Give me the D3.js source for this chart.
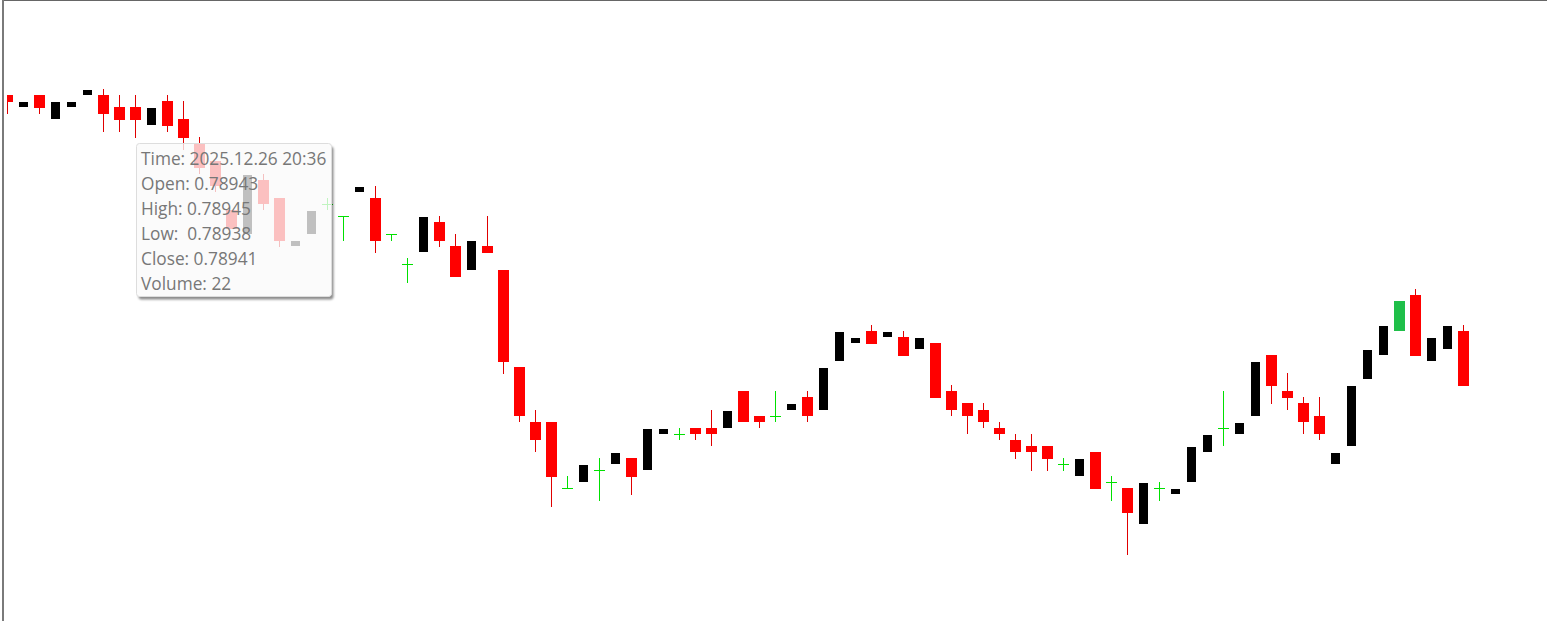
<!DOCTYPE html>
<html>
<head>
<meta charset="utf-8">
<script src="https://cdn.jsdelivr.net/npm/d3@7"></script>
<style>
  html, body { margin: 0; padding: 0; background: #fff; }
  svg { display: block; }
</style>
</head>
<body>
<div id="chart"></div>
<script>
// M1 bars, first bar time; the tooltip shows bar hoverIndex
const startTime = '2025.12.26 20:28'
const hoverIndex = 8
const hoverVolume = 22
const markedIndex = 87

const opens = [
  0.78945, 0.78943, 0.78945, 0.78941, 0.78943, 0.78945, 0.78945, 0.78943, 0.78943, 0.78940,
  0.78944, 0.78941, 0.78937, 0.78934, 0.78926, 0.78922, 0.78931, 0.78928, 0.78920, 0.78922,
  0.78927, 0.78925, 0.78929, 0.78928, 0.78922, 0.78917, 0.78919, 0.78924, 0.78920, 0.78916,
  0.78920, 0.78916, 0.78900, 0.78891, 0.78891, 0.78880, 0.78881, 0.78883, 0.78884, 0.78885,
  0.78883, 0.78889, 0.78889, 0.78890, 0.78890, 0.78890, 0.78896, 0.78892, 0.78892, 0.78893,
  0.78895, 0.78893, 0.78901, 0.78904, 0.78906, 0.78905, 0.78905, 0.78903, 0.78904, 0.78896,
  0.78894, 0.78893, 0.78890, 0.78888, 0.78887, 0.78887, 0.78884, 0.78882, 0.78886, 0.78881,
  0.78880, 0.78874, 0.78880, 0.78879, 0.78881, 0.78886, 0.78890, 0.78889, 0.78892, 0.78902,
  0.78896, 0.78894, 0.78892, 0.78884, 0.78887, 0.78898, 0.78902, 0.78906, 0.78912, 0.78901,
  0.78903, 0.78906
]
const highs = [
  0.78945, 0.78944, 0.78945, 0.78944, 0.78944, 0.78946, 0.78946, 0.78945, 0.78945, 0.78943,
  0.78945, 0.78944, 0.78938, 0.78934, 0.78926, 0.78932, 0.78932, 0.78928, 0.78921, 0.78926,
  0.78928, 0.78925, 0.78930, 0.78930, 0.78922, 0.78918, 0.78925, 0.78925, 0.78922, 0.78921,
  0.78925, 0.78916, 0.78900, 0.78893, 0.78891, 0.78882, 0.78884, 0.78885, 0.78886, 0.78885,
  0.78890, 0.78890, 0.78890, 0.78890, 0.78893, 0.78893, 0.78896, 0.78892, 0.78896, 0.78894,
  0.78896, 0.78900, 0.78906, 0.78905, 0.78907, 0.78906, 0.78906, 0.78905, 0.78904, 0.78897,
  0.78894, 0.78894, 0.78891, 0.78889, 0.78889, 0.78887, 0.78885, 0.78885, 0.78886, 0.78882,
  0.78880, 0.78881, 0.78881, 0.78880, 0.78887, 0.78889, 0.78896, 0.78891, 0.78901, 0.78902,
  0.78899, 0.78895, 0.78895, 0.78886, 0.78897, 0.78903, 0.78907, 0.78911, 0.78913, 0.78905,
  0.78907, 0.78907
]
const lows = [
  0.78942, 0.78943, 0.78942, 0.78941, 0.78943, 0.78945, 0.78939, 0.78939, 0.78938, 0.78940,
  0.78939, 0.78936, 0.78932, 0.78929, 0.78923, 0.78922, 0.78926, 0.78920, 0.78920, 0.78922,
  0.78926, 0.78921, 0.78929, 0.78919, 0.78921, 0.78914, 0.78919, 0.78920, 0.78915, 0.78916,
  0.78919, 0.78899, 0.78891, 0.78886, 0.78877, 0.78880, 0.78881, 0.78878, 0.78884, 0.78879,
  0.78883, 0.78889, 0.78888, 0.78888, 0.78887, 0.78890, 0.78891, 0.78890, 0.78891, 0.78893,
  0.78891, 0.78893, 0.78901, 0.78904, 0.78904, 0.78905, 0.78902, 0.78903, 0.78895, 0.78892,
  0.78889, 0.78890, 0.78888, 0.78885, 0.78883, 0.78883, 0.78883, 0.78882, 0.78880, 0.78878,
  0.78869, 0.78874, 0.78878, 0.78879, 0.78881, 0.78886, 0.78887, 0.78889, 0.78892, 0.78894,
  0.78893, 0.78889, 0.78888, 0.78884, 0.78887, 0.78898, 0.78902, 0.78906, 0.78902, 0.78901,
  0.78903, 0.78897
]
const closes = [
  0.78944, 0.78944, 0.78943, 0.78944, 0.78944, 0.78946, 0.78942, 0.78941, 0.78941, 0.78943,
  0.78940, 0.78938, 0.78933, 0.78930, 0.78923, 0.78932, 0.78927, 0.78921, 0.78921, 0.78926,
  0.78927, 0.78925, 0.78930, 0.78921, 0.78922, 0.78917, 0.78925, 0.78921, 0.78915, 0.78921,
  0.78919, 0.78901, 0.78892, 0.78888, 0.78882, 0.78880, 0.78884, 0.78883, 0.78886, 0.78882,
  0.78890, 0.78890, 0.78889, 0.78889, 0.78889, 0.78893, 0.78891, 0.78891, 0.78892, 0.78894,
  0.78892, 0.78900, 0.78906, 0.78905, 0.78904, 0.78906, 0.78902, 0.78905, 0.78895, 0.78893,
  0.78892, 0.78891, 0.78889, 0.78886, 0.78886, 0.78885, 0.78884, 0.78885, 0.78880, 0.78881,
  0.78876, 0.78881, 0.78880, 0.78880, 0.78887, 0.78889, 0.78890, 0.78891, 0.78901, 0.78897,
  0.78895, 0.78891, 0.78889, 0.78886, 0.78897, 0.78903, 0.78907, 0.78911, 0.78902, 0.78905,
  0.78907, 0.78897
]

const width = 1547
const height = 621
const n = closes.length

const parseTime = d3.timeParse('%Y.%m.%d %H:%M')
const fmtTime = d3.timeFormat('%Y.%m.%d %H:%M')
const t0 = parseTime(startTime)

let candles = d3.range(n).map((i) => ({
  i: i,
  time: d3.timeMinute.offset(t0, i),
  o: opens[i], h: highs[i], l: lows[i], c: closes[i]
}))

let x = d3.scaleLinear().domain([0, n - 1]).range([7.5, 1463.5])
let y = d3.scaleLinear().domain([0.78860, 0.78960]).range([609.15, 4.15])

let svg = d3.select('#chart').append('svg')
  .attr('width', width)
  .attr('height', height)

let defs = svg.append('defs')
defs.append('clipPath').attr('id', 'plot')
  .append('rect')
  .attr('x', 7).attr('y', 1)
  .attr('width', width - 7).attr('height', height - 1)

// frame
svg.append('rect').attr('x', 2).attr('y', 0).attr('width', width - 2).attr('height', 1).attr('fill', '#666')
svg.append('rect').attr('x', 2).attr('y', 0).attr('width', 2).attr('height', height).attr('fill', '#7a7a7a')

let plot = svg.append('g')
  .attr('clip-path', 'url(#plot)')
  .attr('shape-rendering', 'crispEdges')

let down = candles.filter((d) => d.c < d.o)
let up = candles.filter((d) => d.c > d.o && d.i !== markedIndex)
let doji = candles.filter((d) => d.c === d.o)
let marked = candles.filter((d) => d.i === markedIndex)

// bearish: wick + red body
plot.append('g').selectAll('line')
  .data(down)
  .enter().append('line')
  .attr('x1', (d) => x(d.i)).attr('x2', (d) => x(d.i))
  .attr('y1', (d) => y(d.h)).attr('y2', (d) => y(d.l) + 0.6)
  .attr('stroke', '#e00000')

plot.append('g').selectAll('rect')
  .data(down)
  .enter().append('rect')
  .attr('x', (d) => x(d.i) - 5.5)
  .attr('width', 11)
  .attr('y', (d) => y(d.o))
  .attr('height', (d) => y(d.c) - y(d.o) + 0.6)
  .attr('fill', '#ff0000')

// bullish: black body, no wick drawn
plot.append('g').selectAll('rect')
  .data(up)
  .enter().append('rect')
  .attr('x', (d) => x(d.i) - 4.5)
  .attr('width', 9)
  .attr('y', (d) => y(d.c) + 1)
  .attr('height', (d) => Math.max(4, y(d.o) - y(d.c) - 1))
  .attr('fill', '#000')

plot.append('g').selectAll('rect')
  .data(marked)
  .enter().append('rect')
  .attr('x', (d) => x(d.i) - 5.5)
  .attr('width', 11)
  .attr('y', (d) => y(d.c))
  .attr('height', (d) => y(d.o) - y(d.c) + 0.6)
  .attr('fill', '#1fbf49')

// doji crosses
let dj = plot.append('g').attr('stroke', '#00e000')
dj.selectAll('line.v')
  .data(doji)
  .enter().append('line')
  .attr('class', 'v')
  .attr('x1', (d) => x(d.i)).attr('x2', (d) => x(d.i))
  .attr('y1', (d) => y(d.h)).attr('y2', (d) => y(d.l) + 0.6)
dj.selectAll('line.h')
  .data(doji)
  .enter().append('line')
  .attr('class', 'h')
  .attr('x1', (d) => x(d.i) - 5.5).attr('x2', (d) => x(d.i) + 5.5)
  .attr('y1', (d) => y(d.o) + 0.5).attr('y2', (d) => y(d.o) + 0.5)

// tooltip
let hv = candles[hoverIndex]
let box = { x: 136.5, y: 143.5, w: 195, h: 153 }

defs.append('filter').attr('id', 'blur')
  .attr('x', '-20%').attr('y', '-20%').attr('width', '140%').attr('height', '140%')
  .append('feGaussianBlur').attr('stdDeviation', 1.3)

let mask = defs.append('mask').attr('id', 'tipmask')
  .attr('maskUnits', 'userSpaceOnUse')
  .attr('x', 0).attr('y', 0).attr('width', width).attr('height', height)
mask.append('rect').attr('width', width).attr('height', height).attr('fill', '#fff')
mask.append('rect')
  .attr('x', box.x).attr('y', box.y).attr('width', box.w).attr('height', box.h)
  .attr('rx', 3).attr('fill', '#000')

svg.append('g').attr('mask', 'url(#tipmask)')
  .append('rect')
  .attr('x', box.x + 2).attr('y', box.y + 3)
  .attr('width', box.w).attr('height', box.h)
  .attr('rx', 3)
  .attr('fill', 'rgba(0,0,0,0.45)')
  .attr('filter', 'url(#blur)')

svg.append('rect')
  .attr('x', box.x).attr('y', box.y).attr('width', box.w).attr('height', box.h)
  .attr('rx', 3)
  .attr('fill', 'rgba(250,250,250,0.77)')
  .attr('stroke', '#dddddd')

let tipLines = [
  'Time: ' + fmtTime(hv.time),
  'Open: ' + hv.o.toFixed(5),
  'High: ' + hv.h.toFixed(5),
  'Low:  ' + hv.l.toFixed(5),
  'Close: ' + hv.c.toFixed(5),
  'Volume: ' + hoverVolume
]

svg.append('g').selectAll('text')
  .data(tipLines)
  .enter().append('text')
  .attr('x', 141)
  .attr('y', (d, k) => 164.5 + k * 25)
  .style('white-space', 'pre')
  .attr('font-family', '"Open Sans", "Noto Sans", sans-serif')
  .attr('font-size', 17.3)
  .attr('fill', '#777')
  .text((d) => d)
</script>
</body>
</html>
